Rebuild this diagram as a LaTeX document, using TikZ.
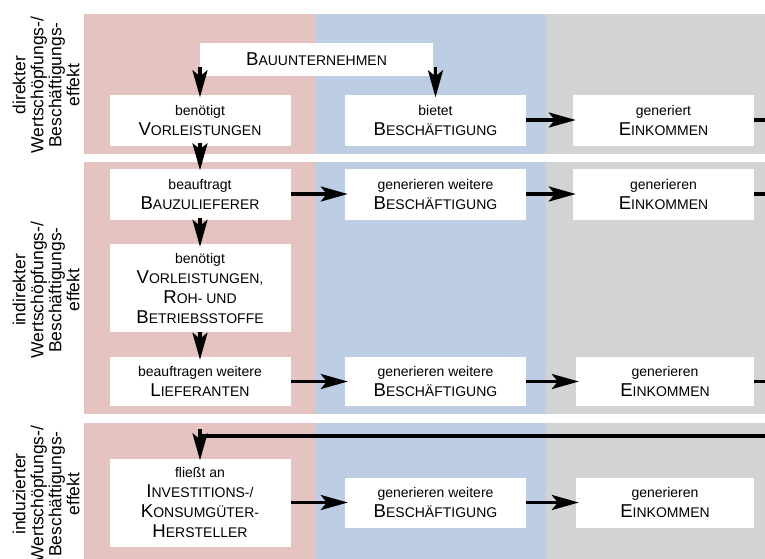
\documentclass[tikz,border=0pt]{standalone}
\usepackage{fontspec}
\setmainfont{Liberation Sans}
\usetikzlibrary{arrows.meta}
\usetikzlibrary{positioning}

\definecolor{bandrot}{RGB}{228,195,193}
\definecolor{bandblau}{RGB}{189,205,227}
\definecolor{bandgrau}{RGB}{210,211,213}

\newcommand{\kap}[2]{{\fontsize{18.6}{20}\selectfont #1}#2}

\begin{document}
\begin{tikzpicture}[
  x=1pt, y=-1pt,
  feld/.style = {fill=white, inner sep=0pt, minimum width=181pt, minimum height=51pt, align=center, font=\fontsize{14}{20}\selectfont},
  pfeil/.style = {-{Stealth[length=27pt,width=15pt,inset=6pt]}, line width=3.4pt},
  linie/.style = {line width=3.4pt},
  effekt/.style = {rotate=90, align=center, font=\fontsize{17.5}{18}\selectfont}
  ]
	\useasboundingbox (0,0) rectangle (765,558);
	\clip (0,0) rectangle (765,558);

	\fill[bandrot] (84,14) rectangle (315,600);
	\fill[bandblau] (315,14) rectangle (546,600);
	\fill[bandgrau] (546,14) rectangle (800,600);
	\fill[white] (84,154) rectangle (800,162);
	\fill[white] (84,414) rectangle (800,423);

	\node[effekt] (lab1) at (46,85) {direkter\\Wertschöpfungs-/\\Beschäftigungs-\\effekt};
	\node[effekt] (lab2) at (46,290) {indirekter\\Wertschöpfungs-/\\Beschäftigungs-\\effekt};
	\node[effekt] (lab3) at (46,494) {induzierter\\Wertschöpfungs-/\\Beschäftigungs-\\effekt};

	\node[feld, minimum width=233pt, minimum height=33pt] (bau) at (316.5,59.5) {\kap{B}{AUUNTERNEHMEN}};

	\node[feld] (vor1) at (200,120) {benötigt\\\kap{V}{ORLEISTUNGEN}};
	\node[feld] (besch1) at (435.5,120) {bietet\\\kap{B}{ESCHÄFTIGUNG}};
	\node[feld] (eink1) at (663.5,120) {generiert\\\kap{E}{INKOMMEN}};

	\node[feld] (zul) at (200,194) {beauftragt\\\kap{B}{AUZULIEFERER}};
	\node[feld] (besch2) at (435.5,194) {generieren weitere\\\kap{B}{ESCHÄFTIGUNG}};
	\node[feld] (eink2) at (663.5,194) {generieren\\\kap{E}{INKOMMEN}};

	\node[feld, minimum height=88pt] (vor2) at (200,288) {benötigt\\\kap{V}{ORLEISTUNGEN,}\\\kap{R}{OH- UND}\\\kap{B}{ETRIEBSSTOFFE}};

	\node[feld, minimum height=49pt] (lief) at (200,381.5) {beauftragen weitere\\\kap{L}{IEFERANTEN}};
	\node[feld, minimum height=49pt] (besch3) at (435.5,381.5) {generieren weitere\\\kap{B}{ESCHÄFTIGUNG}};
	\node[feld, minimum height=49pt, minimum width=178pt] (eink3) at (665,381.5) {generieren\\\kap{E}{INKOMMEN}};

	\node[feld, minimum height=88pt] (inv) at (200,502.5) {fließt an\\\kap{I}{NVESTITIONS-/}\\\kap{K}{ONSUMGÜTER-}\\\kap{H}{ERSTELLER}};
	\node[feld, minimum height=50pt] (besch4) at (435.5,502.5) {generieren weitere\\\kap{B}{ESCHÄFTIGUNG}};
	\node[feld, minimum height=50pt, minimum width=178pt] (eink4) at (665,502.5) {generieren\\\kap{E}{INKOMMEN}};

	\coordinate (aus1) at (780,120);
	\coordinate (aus2) at (780,194);
	\coordinate (aus3) at (780,381.5);
	\coordinate (rueck) at (780,436);

	\draw[pfeil] ([yshift=9pt]bau.south -| vor1.north) -- ([yshift=-3pt]vor1.north);
	\draw[pfeil] ([yshift=9pt]bau.south -| besch1.north) -- ([yshift=-3pt]besch1.north);
	\draw[pfeil] ([yshift=3pt]vor1.south) -- ([yshift=-2pt]zul.north);
	\draw[pfeil] ([yshift=2pt]zul.south) -- ([yshift=-3pt]vor2.north);
	\draw[pfeil] (vor2.south) -- ([yshift=-3pt]lief.north);

	\draw[pfeil] (besch1) -- ([xshift=3pt]eink1.west);
	\draw[pfeil] (zul) -- ([xshift=3pt]besch2.west);
	\draw[pfeil] (besch2) -- ([xshift=3pt]eink2.west);
	\draw[pfeil] (lief) -- ([xshift=3pt]besch3.west);
	\draw[pfeil] (besch3) -- ([xshift=3pt]eink3.west);
	\draw[pfeil] (inv) -- ([xshift=3pt]besch4.west);
	\draw[pfeil] (besch4) -- ([xshift=3pt]eink4.west);

	\draw[linie] (eink1.east) -- (aus1);
	\draw[linie] (eink2.east) -- (aus2);
	\draw[linie] (eink3.east) -- (aus3);

	\draw[linie] (rueck) -- (rueck -| inv.north);
	\draw[pfeil] ([yshift=7pt]rueck -| inv.north) -- ([yshift=-2pt]inv.north);

\end{tikzpicture}
\end{document}
